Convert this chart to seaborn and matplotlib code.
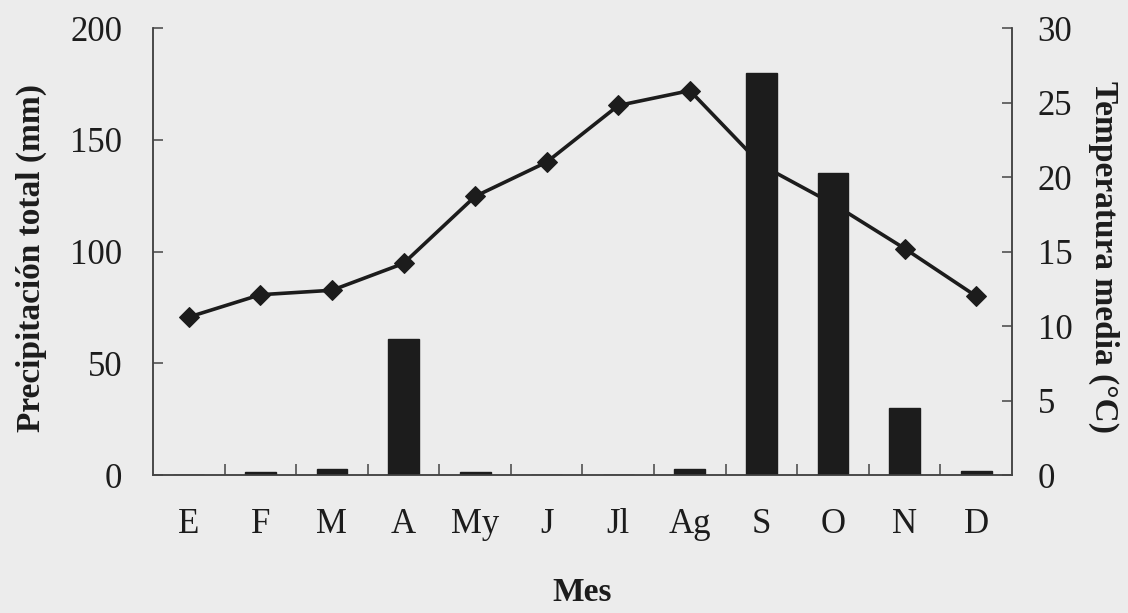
import numpy as np
import pandas as pd
import matplotlib
matplotlib.use("Agg")
import matplotlib.pyplot as plt
import seaborn as sns
from matplotlib.ticker import FixedLocator

months = ["E", "F", "M", "A", "My", "J", "Jl", "Ag", "S", "O", "N", "D"]
precip = [0, 1.3, 2.8, 61, 1.3, 0, 0, 2.7, 180, 135, 30, 2]
temp = [10.6, 12.1, 12.4, 14.2, 18.7, 21.0, 24.8, 25.8, 20.8, 18.2, 15.2, 12.0]
left_ticks = [0, 50, 100, 150, 200]
right_ticks = [0, 5, 10, 15, 20, 25, 30]

sns.set_style("ticks")
plt.rcParams["font.family"] = ["Liberation Serif", "DejaVu Serif"]

bg = "#ececec"
ink = "#1c1c1c"
fig = plt.figure(figsize=(11.28, 6.13), dpi=100, facecolor=bg)
ax = fig.add_axes([0.1356, 0.2251, 0.7616, 0.7292])
ax2 = ax.twinx()

df = pd.DataFrame({"Mes": months, "P": precip, "T": temp, "pos": np.arange(len(months))})

# temperature line (behind bars)
sns.lineplot(data=df, x="pos", y="T", ax=ax2, color=ink, lw=2.6, marker="D",
             markersize=10.5, markeredgecolor=ink, markerfacecolor=ink, sort=False)
# precipitation bars
sns.barplot(data=df, x="Mes", y="P", ax=ax, color=ink, saturation=1, width=0.43,
            edgecolor=ink, order=months)

ax.set_zorder(2)
ax2.set_zorder(1)
ax.patch.set_visible(False)
ax2.patch.set_facecolor(bg)

ax.set_xlim(-0.5, len(months) - 0.5)
ax.set_ylim(0, 200)
ax2.set_ylim(0, 30)
ax.set_yticks(left_ticks)
ax2.set_yticks(right_ticks)

fs = 25
ax.tick_params(axis="y", direction="in", length=7, width=1.1, labelsize=fs, colors="#444",
               labelcolor=ink, pad=22)
ax2.tick_params(axis="y", direction="in", length=7, width=1.1, labelsize=fs, colors="#444",
                labelcolor=ink, pad=18.5)
ax.tick_params(axis="x", which="major", length=0, labelsize=fs, labelcolor=ink, pad=24)
ax.xaxis.set_minor_locator(FixedLocator(np.arange(0.5, len(months) - 1, 1.0)))
ax.tick_params(axis="x", which="minor", direction="in", length=8, width=1.1, colors="#444")
ax2.tick_params(axis="x", which="both", length=0)

for a in (ax, ax2):
    a.spines["top"].set_visible(False)
    for s in ("left", "right", "bottom"):
        a.spines[s].set_color("#444")
        a.spines[s].set_linewidth(1.1)

ax.set_xlabel("Mes", fontsize=24, fontweight="bold", color=ink, labelpad=26)
ax.set_ylabel("Precipitación total (mm)", fontsize=24, fontweight="bold", color=ink,
              va="center", ha="center")
ax.yaxis.set_label_coords(-0.142, 0.485)
ax2.set_ylabel("Temperatura media (°C)", fontsize=24, fontweight="bold", color=ink,
               rotation=270, va="center", ha="center")
ax2.yaxis.set_label_coords(1.107, 0.487)
ax2.set_xlabel("")

fig.savefig("out.png", dpi=100, facecolor=bg)
